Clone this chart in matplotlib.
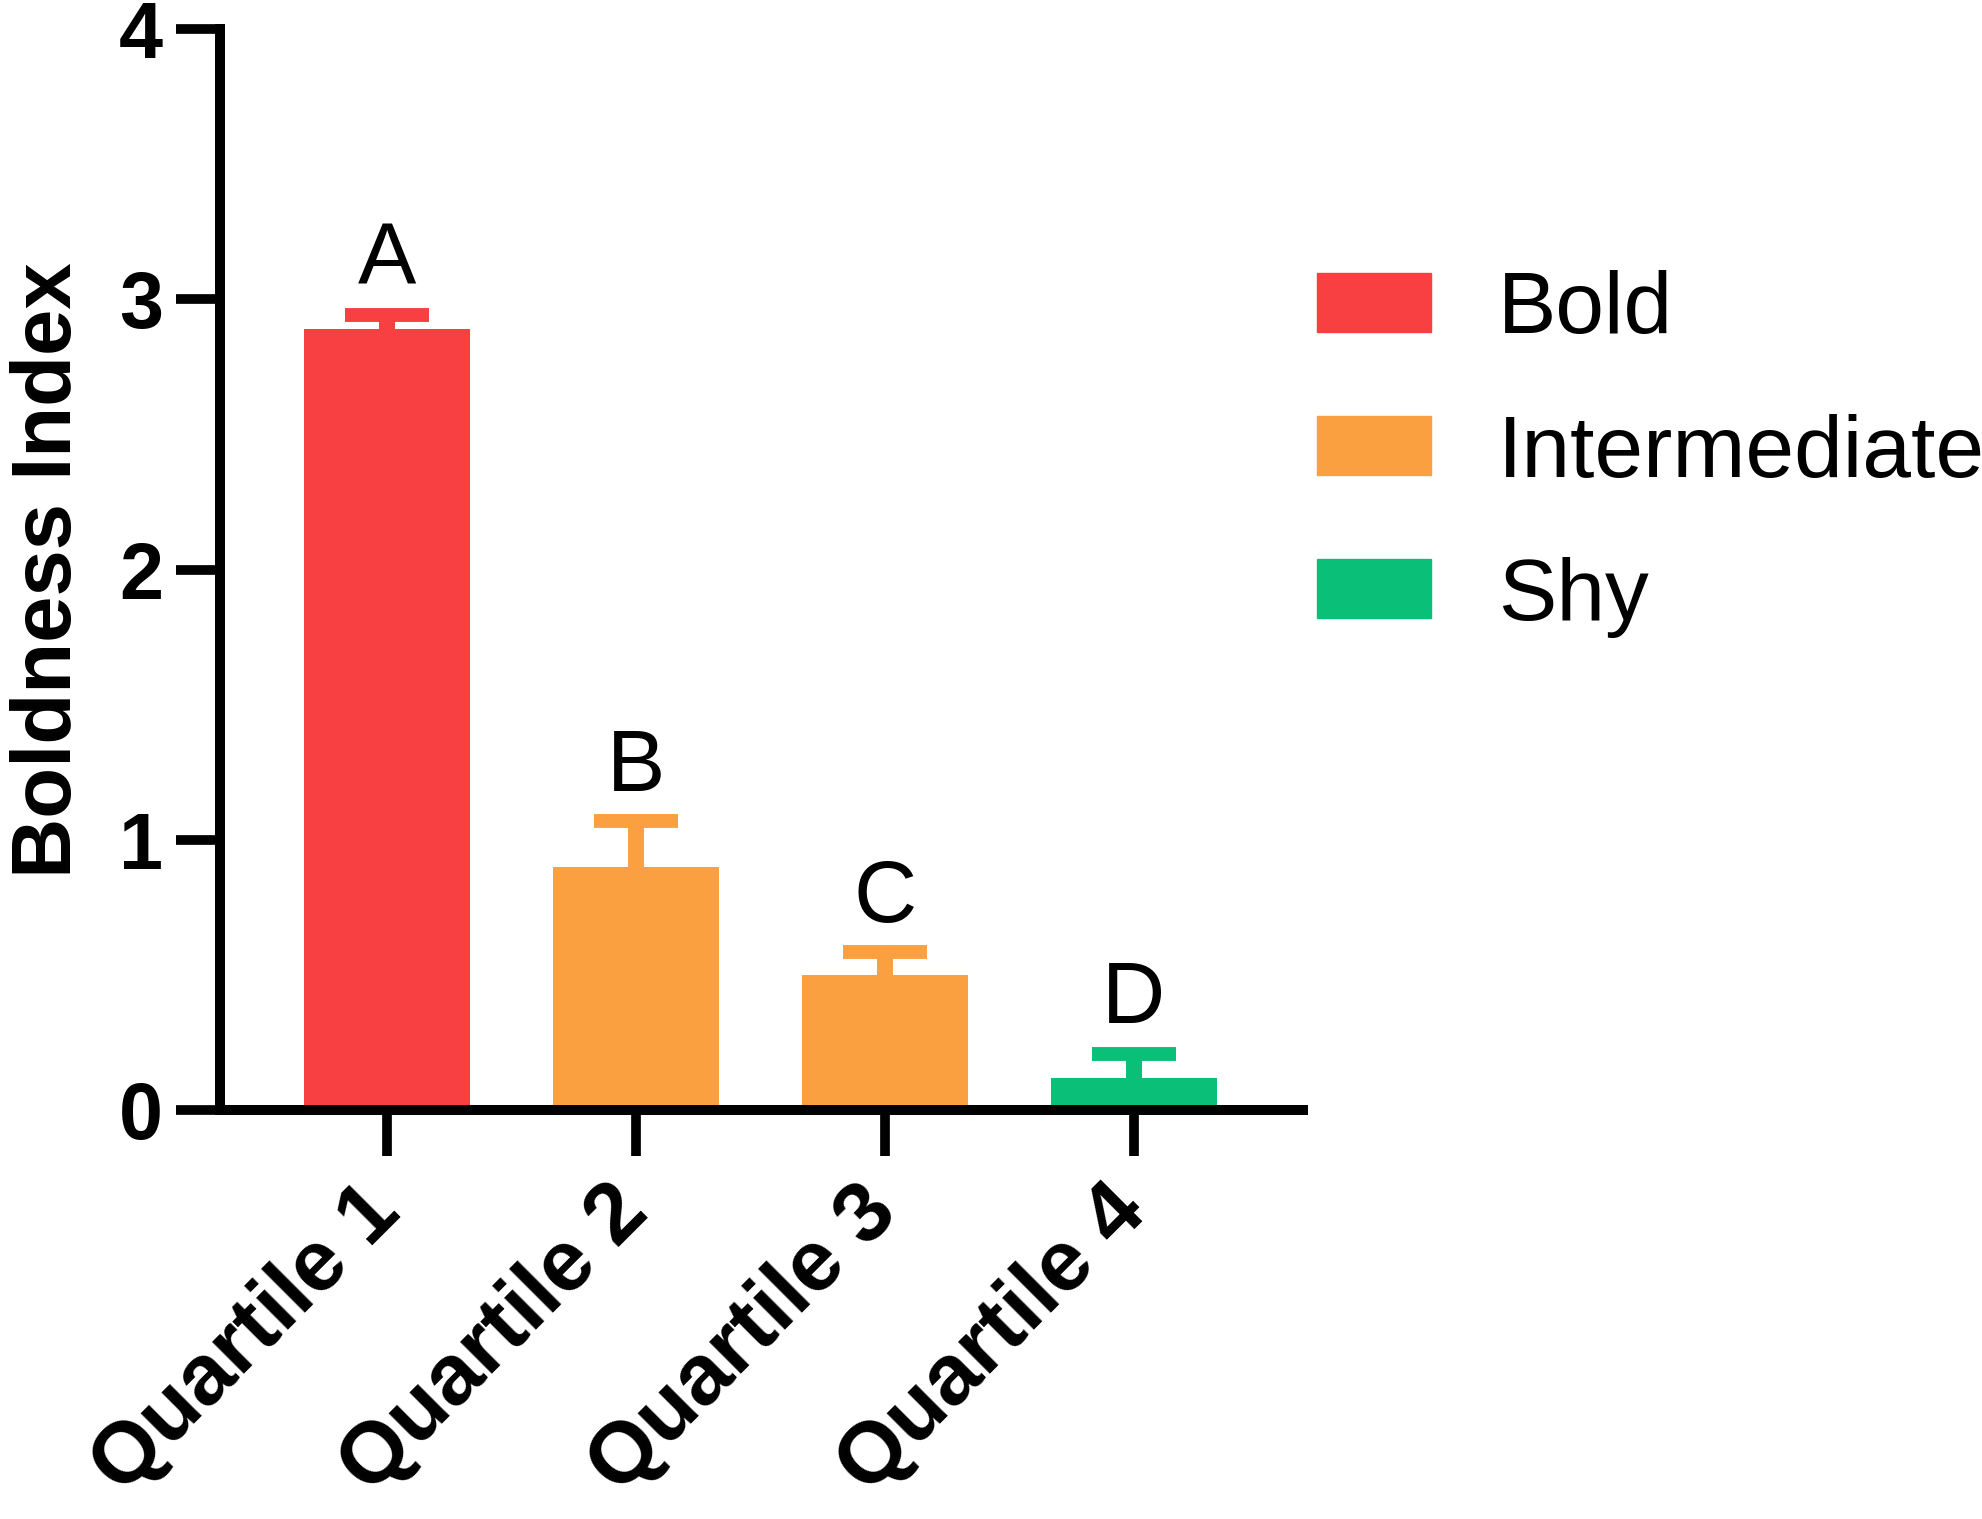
import numpy as np
import matplotlib
matplotlib.use("Agg")
import matplotlib.pyplot as plt
import matplotlib.patches as mpatches

plt.rcParams['font.family'] = ['Liberation Sans', 'DejaVu Sans']

# data
quartiles = ["Quartile 1", "Quartile 2", "Quartile 3", "Quartile 4"]
means = [2.89, 0.90, 0.50, 0.12]
sems = [0.05, 0.17, 0.085, 0.09]
groups = ["Bold", "Intermediate", "Intermediate", "Shy"]
letters = ["A", "B", "C", "D"]

group_names = ["Bold", "Intermediate", "Shy"]
group_colors = {"Bold": "#F84042", "Intermediate": "#FAA040", "Shy": "#0ABF78"}

fig = plt.figure(figsize=(19.83, 15.19), dpi=100)
ax = fig.add_axes([0.111, 0.269, 0.546, 0.712])

x = np.arange(len(quartiles))
colors = [group_colors[g] for g in groups]
ax.bar(x, means, width=0.667, color=colors, zorder=2)

# upper error bars only, cap at the top
for xi, m, s, c in zip(x, means, sems, colors):
    eb = ax.errorbar(xi, m, yerr=[[0], [s]], fmt='none', ecolor=c,
                     elinewidth=11.5, capsize=30, capthick=10, zorder=1)
    eb[1][0].set_visible(False)

# significance letters
for xi, m, s, lab in zip(x, means, sems, letters):
    ax.annotate(lab, (xi, m + s), xytext=(0, 22), textcoords='offset points',
                ha='center', va='baseline', fontsize=63)

ax.set_xlim(-0.671, 3.68)
ax.set_ylim(0, 4)
ax.set_yticks([0, 1, 2, 3, 4])
ax.set_xticks(x)
ax.set_xticklabels(quartiles, rotation=45, ha='right', va='center',
                   rotation_mode='anchor', fontsize=62, fontweight='bold')
ax.tick_params(axis='y', labelsize=57, width=7, length=32, pad=9)
ax.tick_params(axis='x', width=7, length=33, pad=31)
for lab in ax.get_yticklabels():
    lab.set_fontweight('bold')

ax.set_ylabel("Boldness Index", fontsize=60, fontweight='bold', labelpad=22)

for side in ['top', 'right']:
    ax.spines[side].set_visible(False)
for side in ['left', 'bottom']:
    ax.spines[side].set_linewidth(7.2)
    ax.spines[side].set_zorder(3)

handles = [mpatches.Patch(color=group_colors[g], label=g) for g in group_names]
fig.legend(handles=handles, loc='upper left', bbox_to_anchor=(0.664, 0.822),
           frameon=False, fontsize=63, handlelength=1.31, handleheight=0.66,
           handletextpad=0.76, labelspacing=0.71, borderpad=0, borderaxespad=0)

fig.savefig("out.png", dpi=100, facecolor='white')
